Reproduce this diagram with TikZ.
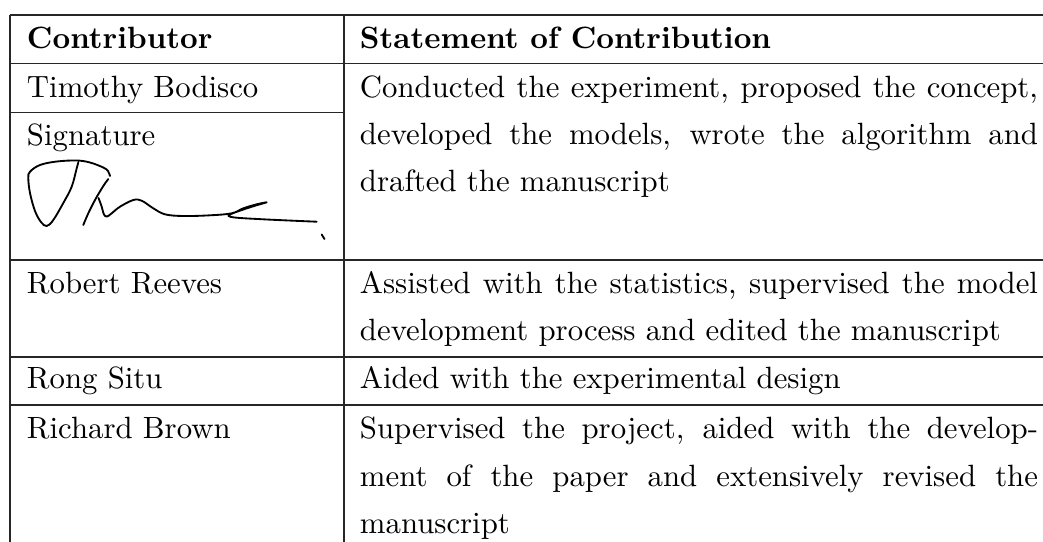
\documentclass[tikz,border=0pt]{standalone}
\newlength{\cw}
\setlength{\cw}{220.35pt}
\tikzset{
  rule/.style={line width=0.4pt, draw=black!85},
  txt/.style={anchor=base west, inner sep=0pt, outer sep=0pt},
  sig/.style={line width=0.6pt, line cap=round, line join=round},
}
\newcommand{\jline}[1]{\makebox[\cw][s]{#1}}
\begin{document}
\begin{tikzpicture}[x=0.325pt, y=-0.325pt]
\useasboundingbox (0,0) rectangle (1043,541);
\clip (0,0) rectangle (1043,541);
% rules
\coordinate (tl) at (10,15);
\coordinate (tr) at (1060,15);
\coordinate (hl) at (10,63.3);
\coordinate (hr) at (1060,63.3);
\coordinate (t1l) at (10,112.3);
\coordinate (t1r) at (344,112.3);
\coordinate (sl) at (10,260);
\coordinate (sr) at (1060,260);
\coordinate (rl) at (10,357);
\coordinate (rr) at (1060,357);
\coordinate (gl) at (10,405);
\coordinate (gr) at (1060,405);
\coordinate (bl) at (10,560);
\coordinate (mt) at (344,15);
\coordinate (mb) at (344,560);
\draw[rule] (tl) -- (tr);
\draw[rule] (hl) -- (hr);
\draw[rule] (t1l) -- (t1r);
\draw[rule] (sl) -- (sr);
\draw[rule] (rl) -- (rr);
\draw[rule] (gl) -- (gr);
\draw[rule] (tl) -- (bl);
\draw[rule] (mt) -- (mb);
% header
\node[txt] (h1) at (27,48.3) {\bfseries Contributor};
\node[txt] (h2) at (360,48.3) {\bfseries Statement of Contribution};
% left column
\node[txt] (n1) at (27,97.5) {Timothy Bodisco};
\node[txt] (n1s) at (27,145.7) {Signature};
\node[txt] (n2) at (27,293.3) {Robert Reeves};
\node[txt] (n3) at (27,388.5) {Rong Situ};
\node[txt] (n4) at (27,438.5) {Richard Brown};
% right column
\node[txt] (c1a) at (360,97) {\jline{Conducted the experiment, proposed the concept,}};
\node[txt] (c1b) at (360,144) {\jline{developed the models, wrote the algorithm and}};
\node[txt] (c1c) at (360,191.7) {drafted the manuscript};
\node[txt] (c2a) at (360,293.3) {\jline{Assisted with the statistics, supervised the model}};
\node[txt] (c2b) at (360,340) {development process and edited the manuscript};
\node[txt] (c3a) at (360,388.5) {Aided with the experimental design};
\node[txt] (c4a) at (360,438.5) {\jline{Supervised the project, aided with the develop-}};
\node[txt] (c4b) at (360,486.7) {\jline{ment of the paper and extensively revised the}};
\node[txt] (c4c) at (360,533.3) {manuscript};
% signature
\draw[sig] plot[smooth, tension=0.6] coordinates {
  (110,176) (108,171) (103.3,167.5) (90,162.5) (76.7,160.5) (56.7,161.5) (40,165)
  (30,171.7) (28.3,178) (30,193) (35,211) (41,222) (46.7,226) (53.3,220)
  (63.3,203) (71.7,186.7) (76.7,168.3) (78.3,162.5)};
\draw[sig] plot[smooth, tension=0.6] coordinates {
  (108.3,179) (103.3,186) (95,200) (88.3,213.3) (83.3,225)};
\draw[sig] plot[smooth, tension=0.6] coordinates {
  (98.5,198) (101.5,206) (104,214.5) (107,216.5) (111.7,213.3) (120,206.7)
  (133.3,200) (141.7,200.7) (153.3,208.3) (165,214.3) (183.3,216)
  (210,215.3) (231.7,213.3) (243.3,208.3) (256.7,204.3) (266.7,202.3)
  (256.7,205.2) (243.3,209.5) (231,214) (228.5,216) (236.7,217.7)
  (263.3,219.3) (293.3,220.7) (316.7,221.7)};
\draw[sig] plot coordinates {(321.7,234.5) (324.5,239)};
\end{tikzpicture}
\end{document}
